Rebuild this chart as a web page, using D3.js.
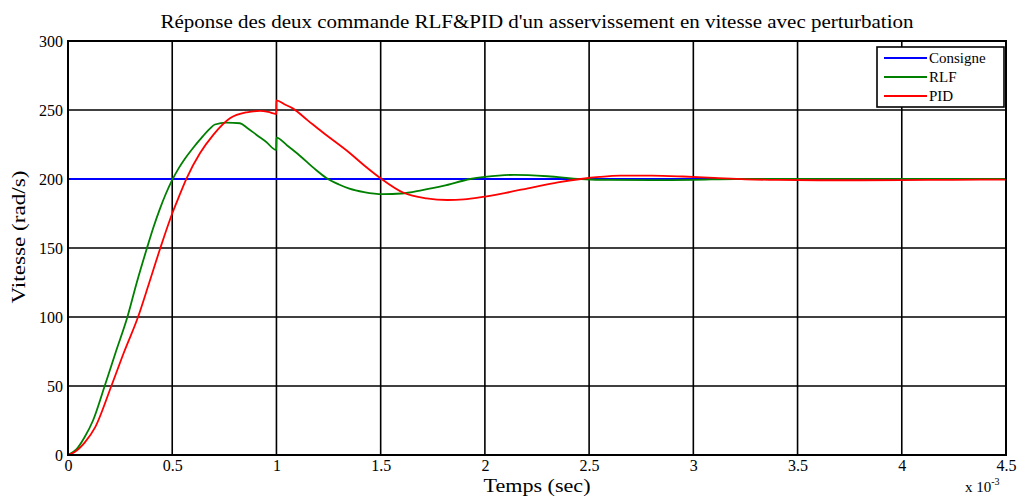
<!DOCTYPE html>
<html>
<head>
<meta charset="utf-8">
<script src="https://cdn.jsdelivr.net/npm/d3@7/dist/d3.min.js"></script>
<style>
  html, body { margin: 0; padding: 0; background: #fff; }
  svg { display: block; }
  text { font-family: "Liberation Serif", "Times New Roman", serif; fill: #000; }
</style>
</head>
<body>
<svg id="chart" width="1018" height="497"></svg>
<script>
// Time axis in ms (labels are scaled by 10^-3), speed in rad/s
const xTicks = [0, 0.5, 1, 1.5, 2, 2.5, 3, 3.5, 4, 4.5];
const yTicks = [0, 50, 100, 150, 200, 250, 300];

// Set point
const consigneT = [0, 4.5];
const consigneV = [200, 200];

// RLF response
const rlfT = [0, 0.04, 0.08, 0.12, 0.176, 0.23, 0.285, 0.33, 0.379, 0.41, 0.44, 0.47, 0.499, 0.53, 0.56, 0.6, 0.633, 0.681, 0.705, 0.76, 0.825, 0.86, 0.905, 0.95, 0.999,
              1.0, 1.05, 1.1, 1.19, 1.24, 1.3, 1.35, 1.42, 1.51, 1.6, 1.7, 1.8, 1.93, 2.0, 2.14, 2.3, 2.46, 2.6, 2.8, 3.0, 3.2, 3.6, 4.0, 4.5];
const rlfV = [0, 4, 13, 25, 50, 75, 100, 125, 150, 165, 178, 189.5, 199, 207.5, 214.5, 222.5, 228.5, 236.5, 239.5, 240.9, 240.4, 237, 231.9, 227, 221,
              230, 224.5, 218.5, 206.5, 200.7, 196, 193, 190.5, 189, 189.5, 192, 195, 200, 201.5, 203, 202, 200, 199.3, 199.2, 199.4, 200, 200.1, 200.1, 200];

// PID response
const pidT = [0, 0.03, 0.08, 0.13, 0.208, 0.27, 0.336, 0.39, 0.443, 0.5, 0.529, 0.569, 0.633, 0.697, 0.777, 0.857, 0.921, 0.96, 0.999,
              1.0, 1.04, 1.08, 1.15, 1.22, 1.35, 1.42, 1.5, 1.61, 1.72, 1.82, 1.9, 1.99, 2.1, 2.23, 2.35, 2.46, 2.55, 2.65, 2.8, 2.95, 3.1, 3.25, 3.4, 3.6, 3.8, 4.0, 4.25, 4.5];
const pidV = [0, 2, 9, 20, 50, 75, 100, 125, 150, 175, 186, 200.5, 218.6, 232, 244, 248.3, 249.3, 248.6, 247.1,
              257, 254, 251, 242.5, 234, 219, 210, 200.5, 190, 186, 184.8, 185.2, 187, 190, 194, 197.5, 200, 201.5, 202.4, 202.4, 201.8, 200.8, 199.8, 199.3, 199.1, 199.1, 199.2, 199.4, 199.6];

const title = "Réponse des deux commande RLF&PID d'un asservissement en vitesse avec perturbation";

const margin = { left: 68, top: 41, right: 1006, bottom: 455 };
const svg = d3.select("#chart");

const x = d3.scaleLinear().domain([0, 4.5]).range([margin.left, margin.right]);
const y = d3.scaleLinear().domain([0, 300]).range([margin.bottom, margin.top]);

// Grid
const grid = svg.append("g");
grid.selectAll("line.vx").data(xTicks).join("line")
  .attr("x1", d => x(d)).attr("x2", d => x(d))
  .attr("y1", margin.top).attr("y2", margin.bottom)
  .attr("stroke", "#000").attr("stroke-width", 1.6);
grid.selectAll("line.hy").data(yTicks).join("line")
  .attr("x1", margin.left).attr("x2", margin.right)
  .attr("y1", d => y(d)).attr("y2", d => y(d))
  .attr("stroke", "#000").attr("stroke-width", 1.6);

// Axes (labels only; frame drawn separately)
const xAxis = d3.axisBottom(x).tickValues(xTicks).tickSize(0).tickPadding(5)
  .tickFormat(d => d3.format("")(d));
const yAxis = d3.axisLeft(y).tickValues(yTicks).tickSize(0).tickPadding(5);

const gx = svg.append("g").attr("transform", `translate(0,${margin.bottom})`).call(xAxis);
const gy = svg.append("g").attr("transform", `translate(${margin.left},0)`).call(yAxis);
[gx, gy].forEach(g => {
  g.select(".domain").remove();
  g.selectAll("text").style("font-family", "'Liberation Serif', serif").style("font-size", "16px").attr("fill", "#000");
});
gx.selectAll("text").attr("dy", "0.71em");

// Curves
svg.append("clipPath").attr("id", "plotclip").append("rect")
  .attr("x", margin.left).attr("y", margin.top)
  .attr("width", margin.right - margin.left).attr("height", margin.bottom - margin.top);

const line = d3.line().x(d => x(d[0])).y(d => y(d[1])).curve(d3.curveMonotoneX);
const series = [
  { name: "Consigne", t: consigneT, v: consigneV, color: "#0000ff", w: 2.2 },
  { name: "RLF", t: rlfT, v: rlfV, color: "#008000", w: 1.8 },
  { name: "PID", t: pidT, v: pidV, color: "#ff0000", w: 1.8 }
];
const curves = svg.append("g").attr("clip-path", "url(#plotclip)");
series.forEach(s => {
  curves.append("path")
    .datum(d3.zip(s.t, s.v))
    .attr("d", line)
    .attr("fill", "none")
    .attr("stroke", s.color)
    .attr("stroke-width", s.w)
    .attr("stroke-linejoin", "round");
});

// Frame
svg.append("rect")
  .attr("x", margin.left).attr("y", margin.top)
  .attr("width", margin.right - margin.left).attr("height", margin.bottom - margin.top)
  .attr("fill", "none").attr("stroke", "#000").attr("stroke-width", 2);

// Legend
const lg = svg.append("g").attr("transform", "translate(877,47)");
lg.append("rect").attr("width", 127).attr("height", 60)
  .attr("fill", "#fff").attr("stroke", "#000").attr("stroke-width", 1.6);
series.forEach((s, i) => {
  const yy = 11 + i * 19;
  lg.append("line").attr("x1", 7).attr("x2", 50).attr("y1", yy).attr("y2", yy)
    .attr("stroke", s.color).attr("stroke-width", 1.8);
  lg.append("text").attr("x", 52).attr("y", yy).attr("dy", "0.35em")
    .style("font-size", "15px").text(s.name);
});

// Titles
svg.append("text").attr("x", 537).attr("y", 28).attr("text-anchor", "middle")
  .attr("textLength", 753).attr("lengthAdjust", "spacingAndGlyphs")
  .style("font-size", "18px").text(title);
svg.append("text").attr("x", 537).attr("y", 492).attr("text-anchor", "middle")
  .attr("textLength", 107).attr("lengthAdjust", "spacingAndGlyphs")
  .style("font-size", "18px").text("Temps (sec)");
svg.append("text").attr("transform", "translate(25,237) rotate(-90)").attr("text-anchor", "middle")
  .attr("textLength", 133).attr("lengthAdjust", "spacingAndGlyphs")
  .style("font-size", "18px").text("Vitesse (rad/s)");

// Exponent of the time axis
const ex = svg.append("text").attr("x", 965).attr("y", 492).style("font-size", "15px");
ex.append("tspan").text("x 10");
ex.append("tspan").attr("dy", -7).style("font-size", "10px").text("-3");
</script>
</body>
</html>
